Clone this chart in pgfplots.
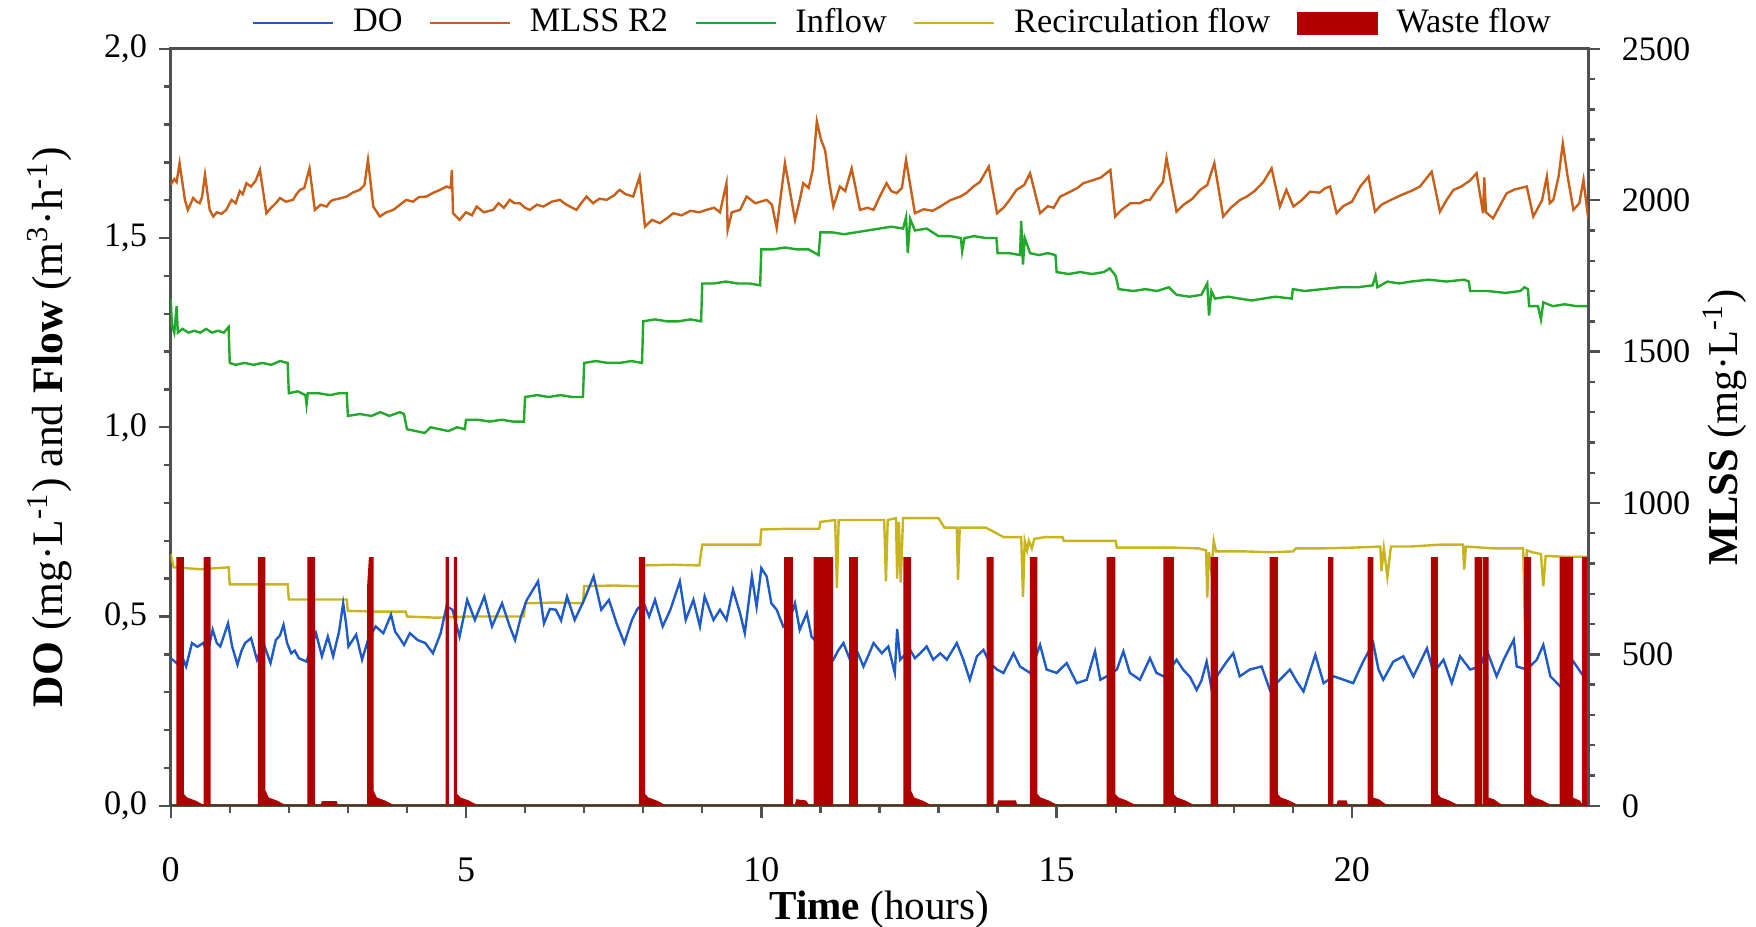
\documentclass[border=0pt]{standalone}
\usepackage{fontspec}
\setmainfont{Liberation Serif}
\usepackage{pgfplots}
\pgfplotsset{compat=1.18}

\definecolor{cDO}{HTML}{1F5BC8}
\definecolor{cMLSS}{HTML}{C8601A}
\definecolor{cIn}{HTML}{22A82A}
\definecolor{cRec}{HTML}{C8B41E}
\definecolor{cWaste}{HTML}{B00000}
\definecolor{cAxis}{HTML}{505050}

\pgfplotsset{
  base/.style={
    scale only axis,
    width=14.53cm, height=7.76cm,
    xmin=0, xmax=24,
    tick align=outside,
    major tick length=0.12cm,
    minor tick length=0.07cm,
    axis line style={cAxis, line width=0.9pt},
    every tick/.style={cAxis, line width=0.7pt},
    tick label style={font=\fontsize{10}{12}\selectfont},
    label style={font=\fontsize{12}{14}\selectfont},
    /pgf/number format/assume math mode=true,
  },
}

\begin{document}
\begin{tikzpicture}
% left axis: DO and flows
\begin{axis}[
  base,
  ymin=0, ymax=2,
  xtick={0,5,10,15,20},
  minor x tick num=4,
  ytick={0,0.5,1,1.5,2},
  minor y tick num=4,
  xtick pos=bottom, ytick pos=left,
  yticklabel style={/pgf/number format/.cd, fixed, fixed zerofill, precision=1, use comma},
  xticklabel style={yshift=-0.29cm, font=\fontsize{10.5}{12}\selectfont},
  xlabel={\textbf{Time} (hours)},
  xlabel style={at={(axis description cs:0.5,-0.137)}, anchor=center},
  ylabel={\textbf{DO} (mg·L\textsuperscript{-1}) and \textbf{Flow} (m\textsuperscript{3}·h\textsuperscript{-1})},
  ylabel style={at={(axis description cs:-0.0855,0.5)}, anchor=center, rotate=0,
    font=\fontsize{12.7}{14}\selectfont},
]
% inflow
\addplot[cIn, line width=0.7pt, sharp plot] coordinates {
(0.00,1.34) (0.02,1.27) (0.06,1.25) (0.10,1.32) (0.12,1.25) (0.20,1.26) (0.30,1.25) (0.40,1.255)
(0.50,1.25) (0.60,1.26) (0.70,1.25) (0.80,1.255) (0.90,1.25) (0.98,1.265) (1.00,1.17) (1.10,1.165)
(1.25,1.17) (1.40,1.165) (1.55,1.17) (1.70,1.165) (1.85,1.175) (1.98,1.17) (2.00,1.09) (2.15,1.095)
(2.28,1.085) (2.30,1.06) (2.32,1.09) (2.50,1.09) (2.70,1.085) (2.85,1.09) (2.98,1.09) (3.00,1.03)
(3.20,1.035) (3.40,1.03) (3.55,1.04) (3.70,1.03) (3.88,1.04) (3.95,1.035) (4.00,0.995) (4.15,0.99)
(4.30,0.985) (4.40,1.00) (4.55,0.995) (4.70,0.99) (4.85,1.00) (4.98,0.995) (5.00,1.02) (5.20,1.02)
(5.40,1.015) (5.60,1.02) (5.80,1.015) (5.98,1.015) (6.00,1.08) (6.20,1.085) (6.40,1.08) (6.60,1.085)
(6.80,1.08) (6.98,1.08) (7.00,1.17) (7.20,1.175) (7.40,1.17) (7.60,1.17) (7.80,1.175) (7.98,1.17)
(8.00,1.28) (8.20,1.285) (8.40,1.28) (8.60,1.28) (8.80,1.285) (8.98,1.28) (9.00,1.38) (9.20,1.38)
(9.40,1.385) (9.60,1.38) (9.80,1.38) (9.98,1.375) (10.00,1.47) (10.20,1.47) (10.40,1.475) (10.60,1.47)
(10.80,1.47) (10.97,1.455) (11.00,1.515) (11.20,1.515) (11.40,1.51) (11.60,1.515) (11.80,1.52) (12.00,1.525)
(12.20,1.53) (12.40,1.525) (12.45,1.555) (12.48,1.46) (12.52,1.55) (12.60,1.52) (12.80,1.525) (13.00,1.505)
(13.20,1.505) (13.38,1.50) (13.40,1.465) (13.44,1.50) (13.60,1.505) (13.80,1.50) (13.98,1.50) (14.00,1.46)
(14.20,1.46) (14.38,1.455) (14.40,1.545) (14.43,1.43) (14.46,1.50) (14.55,1.46) (14.70,1.455) (14.85,1.46)
(14.98,1.455) (15.00,1.41) (15.20,1.405) (15.40,1.41) (15.60,1.405) (15.80,1.41) (15.90,1.42) (16.00,1.40)
(16.05,1.365) (16.30,1.36) (16.50,1.365) (16.70,1.36) (16.90,1.37) (17.03,1.35) (17.25,1.345) (17.45,1.35)
(17.55,1.38) (17.58,1.295) (17.62,1.36) (17.68,1.34) (17.90,1.345) (18.10,1.34) (18.30,1.335) (18.50,1.34)
(18.70,1.345) (18.98,1.34) (19.00,1.365) (19.20,1.36) (19.50,1.365) (19.80,1.37) (20.10,1.37) (20.35,1.375)
(20.40,1.40) (20.43,1.37) (20.60,1.385) (20.80,1.38) (21.00,1.385) (21.30,1.39) (21.60,1.385) (21.90,1.39)
(21.98,1.385) (22.00,1.36) (22.30,1.36) (22.60,1.355) (22.85,1.36) (22.92,1.37) (22.98,1.365) (23.00,1.32)
(23.15,1.32) (23.20,1.285) (23.24,1.33) (23.40,1.32) (23.60,1.325) (23.80,1.32) (24.00,1.32)
};
% recirculation flow
\addplot[cRec, line width=0.7pt, sharp plot] coordinates {
(0.00,0.665) (0.05,0.63) (0.50,0.625) (0.98,0.63) (1.00,0.585) (1.50,0.585) (1.98,0.585) (2.00,0.545)
(2.50,0.545) (2.98,0.545) (3.00,0.515) (3.50,0.513) (3.98,0.513) (4.00,0.50) (4.50,0.497) (5.00,0.50)
(5.50,0.50) (5.98,0.50) (6.00,0.535) (6.50,0.537) (6.98,0.535) (7.00,0.58) (7.50,0.582) (7.95,0.58)
(8.00,0.635) (8.50,0.637) (8.95,0.635) (9.00,0.69) (9.50,0.69) (9.98,0.69) (10.00,0.73) (10.50,0.732)
(10.98,0.732) (11.00,0.75) (11.25,0.755) (11.28,0.576) (11.31,0.755) (11.60,0.755) (12.08,0.755) (12.11,0.593)
(12.14,0.755) (12.28,0.76) (12.30,0.60) (12.33,0.75) (12.36,0.59) (12.40,0.76) (12.70,0.76) (13.00,0.76)
(13.10,0.735) (13.31,0.735) (13.33,0.597) (13.36,0.735) (13.80,0.735) (14.10,0.71) (14.40,0.71) (14.43,0.552)
(14.46,0.70) (14.50,0.675) (14.53,0.70) (14.58,0.68) (14.62,0.705) (14.80,0.71) (15.10,0.71) (15.12,0.70)
(15.60,0.70) (16.00,0.70) (16.02,0.682) (16.50,0.682) (17.00,0.682) (17.40,0.68) (17.53,0.675) (17.55,0.55)
(17.58,0.67) (17.62,0.62) (17.66,0.70) (17.70,0.672) (18.20,0.672) (18.60,0.670) (19.00,0.672) (19.05,0.68)
(19.50,0.68) (20.00,0.682) (20.48,0.685) (20.50,0.62) (20.54,0.68) (20.60,0.605) (20.66,0.685) (21.00,0.685)
(21.50,0.69) (21.88,0.69) (21.90,0.624) (21.93,0.685) (22.40,0.68) (22.90,0.68) (22.93,0.45) (22.96,0.675)
(23.05,0.67) (23.20,0.665) (23.24,0.58) (23.28,0.66) (23.60,0.658) (24.00,0.658)
};
% DO
\addplot[cDO, line width=0.7pt, sharp plot] coordinates {
(0.00,0.39) (0.10,0.377) (0.18,0.40) (0.26,0.368) (0.36,0.430) (0.45,0.42) (0.55,0.430) (0.62,0.403)
(0.71,0.465) (0.78,0.43) (0.84,0.421) (0.97,0.482) (1.04,0.421) (1.13,0.373) (1.20,0.41) (1.26,0.430)
(1.36,0.443) (1.46,0.386) (1.52,0.41) (1.59,0.421) (1.69,0.377) (1.78,0.438) (1.85,0.45) (1.91,0.478)
(1.97,0.43) (2.04,0.403) (2.10,0.41) (2.17,0.390) (2.30,0.381) (2.38,0.42) (2.46,0.456) (2.56,0.395)
(2.66,0.447) (2.75,0.395) (2.85,0.46) (2.92,0.535) (2.97,0.48) (3.01,0.421) (3.14,0.452) (3.24,0.386)
(3.34,0.438) (3.47,0.474) (3.60,0.456) (3.73,0.505) (3.80,0.46) (3.86,0.447) (3.95,0.425) (4.05,0.456)
(4.18,0.438) (4.31,0.430) (4.44,0.403) (4.57,0.456) (4.67,0.527) (4.77,0.518) (4.89,0.447) (5.02,0.544)
(5.15,0.491) (5.31,0.553) (5.44,0.474) (5.61,0.535) (5.74,0.474) (5.83,0.438) (5.93,0.50) (6.03,0.544)
(6.22,0.593) (6.32,0.482) (6.42,0.52) (6.52,0.518) (6.61,0.49) (6.71,0.553) (6.84,0.491) (7.00,0.544)
(7.16,0.606) (7.29,0.518) (7.42,0.544) (7.55,0.482) (7.68,0.430) (7.81,0.491) (7.90,0.52) (8.01,0.535)
(8.10,0.50) (8.20,0.544) (8.33,0.474) (8.46,0.518) (8.62,0.593) (8.72,0.491) (8.85,0.544) (8.96,0.474)
(9.04,0.553) (9.19,0.491) (9.30,0.518) (9.41,0.491) (9.52,0.571) (9.64,0.509) (9.72,0.456) (9.84,0.606)
(9.92,0.526) (10.00,0.628) (10.09,0.606) (10.17,0.535) (10.26,0.518) (10.37,0.474) (10.48,0.491) (10.57,0.535)
(10.65,0.465) (10.77,0.509) (10.85,0.447) (10.95,0.43) (11.15,0.40) (11.22,0.386) (11.30,0.41) (11.39,0.430)
(11.50,0.386) (11.61,0.412) (11.73,0.368) (11.82,0.40) (11.90,0.430) (12.04,0.403) (12.15,0.421) (12.26,0.351)
(12.30,0.467) (12.35,0.386) (12.44,0.40) (12.52,0.412) (12.60,0.39) (12.69,0.403) (12.80,0.421) (12.91,0.386)
(13.03,0.403) (13.14,0.386) (13.31,0.430) (13.42,0.386) (13.53,0.333) (13.65,0.395) (13.76,0.412) (13.87,0.377)
(13.99,0.360) (14.10,0.351) (14.27,0.403) (14.38,0.368) (14.55,0.351) (14.72,0.425) (14.83,0.360) (15.00,0.351)
(15.17,0.377) (15.34,0.324) (15.51,0.333) (15.65,0.408) (15.74,0.333) (15.85,0.342) (16.02,0.360) (16.13,0.408)
(16.24,0.351) (16.41,0.333) (16.58,0.39) (16.69,0.351) (16.81,0.342) (16.92,0.36) (17.03,0.386) (17.14,0.360)
(17.26,0.34) (17.37,0.306) (17.45,0.33) (17.54,0.381) (17.62,0.311) (17.71,0.342) (17.88,0.381) (17.99,0.403)
(18.10,0.342) (18.27,0.360) (18.47,0.368) (18.61,0.306) (18.78,0.333) (18.95,0.360) (19.06,0.33) (19.18,0.302)
(19.38,0.399) (19.52,0.324) (19.69,0.342) (19.86,0.333) (20.02,0.324) (20.19,0.381) (20.36,0.430) (20.45,0.36)
(20.53,0.333) (20.70,0.381) (20.87,0.395) (21.04,0.342) (21.27,0.416) (21.38,0.351) (21.55,0.386) (21.69,0.324)
(21.83,0.395) (22.00,0.360) (22.17,0.368) (22.28,0.412) (22.45,0.342) (22.57,0.386) (22.74,0.439) (22.79,0.368)
(22.96,0.360) (23.13,0.386) (23.24,0.425) (23.36,0.342) (23.53,0.315) (23.64,0.35) (23.75,0.381) (23.92,0.342)
(24.00,0.333)
};
% waste flow
\addplot[fill=cWaste, draw=cWaste, line width=0.5pt, sharp plot] coordinates {
(0,0) (0.11,0) (0.11,0.655) (0.21,0.655) (0.21,0.03) (0.27,0.02) (0.41,0.012) (0.51,0.004) (0.56,0)
(0.57,0) (0.57,0.655) (0.66,0.655) (0.66,0)
(1.49,0) (1.49,0.655) (1.59,0.655) (1.59,0.04) (1.65,0.02) (1.79,0.012) (1.89,0.004) (1.94,0)
(2.33,0) (2.33,0.655) (2.43,0.655) (2.43,0) (2.55,0) (2.57,0.01) (2.80,0.01) (2.82,0)
(3.34,0) (3.34,0.58) (3.37,0.655) (3.42,0.655) (3.42,0.04) (3.48,0.02) (3.62,0.012) (3.72,0.004) (3.77,0)
(4.67,0) (4.67,0.655) (4.695,0.655) (4.695,0) (4.81,0) (4.81,0.655) (4.835,0.655) (4.835,0.03) (4.90,0.02) (5.04,0.012) (5.14,0.004) (5.19,0)
(7.94,0) (7.94,0.655) (8.02,0.655) (8.02,0.03) (8.08,0.02) (8.22,0.012) (8.32,0.004) (8.37,0)
(10.40,0) (10.40,0.655) (10.52,0.655) (10.52,0) (10.58,0) (10.60,0.015) (10.75,0.012) (10.80,0)
(10.90,0) (10.90,0.655) (11.20,0.655) (11.20,0)
(11.50,0) (11.50,0.655) (11.62,0.655) (11.62,0)
(12.42,0) (12.42,0.655) (12.52,0.655) (12.52,0.04) (12.58,0.02) (12.72,0.012) (12.82,0.004) (12.87,0)
(13.83,0) (13.83,0.655) (13.92,0.655) (13.92,0) (14.00,0) (14.02,0.012) (14.30,0.012) (14.32,0)
(14.56,0) (14.56,0.655) (14.66,0.655) (14.66,0.03) (14.72,0.02) (14.86,0.012) (14.96,0.004) (15.01,0)
(15.86,0) (15.86,0.655) (15.98,0.655) (15.98,0.03) (16.04,0.02) (16.18,0.012) (16.28,0.004) (16.33,0)
(16.82,0) (16.82,0.655) (16.97,0.655) (16.97,0.03) (17.03,0.02) (17.17,0.012) (17.27,0.004) (17.32,0)
(17.62,0) (17.62,0.655) (17.72,0.655) (17.72,0)
(18.62,0) (18.62,0.655) (18.73,0.655) (18.73,0.03) (18.79,0.02) (18.93,0.012) (19.03,0.004) (19.08,0)
(19.61,0) (19.61,0.655) (19.67,0.655) (19.67,0) (19.75,0) (19.77,0.012) (19.90,0.012) (19.92,0)
(20.28,0) (20.28,0.655) (20.35,0.655) (20.35,0.02) (20.45,0.015) (20.55,0.004) (20.60,0)
(21.35,0) (21.35,0.655) (21.44,0.655) (21.44,0.03) (21.50,0.02) (21.64,0.012) (21.74,0.004) (21.79,0)
(22.09,0) (22.09,0.655) (22.19,0.655) (22.19,0) (22.23,0) (22.23,0.655) (22.30,0.655) (22.30,0.02) (22.40,0.015) (22.50,0.004) (22.55,0)
(22.93,0) (22.93,0.655) (23.02,0.655) (23.02,0.03) (23.08,0.02) (23.22,0.012) (23.32,0.004) (23.37,0)
(23.53,0) (23.53,0.655) (23.73,0.655) (23.73,0.02) (23.85,0.012) (23.90,0)
(23.91,0) (23.91,0.655) (23.98,0.655) (23.98,0.01) (24,0)
} \closedcycle;
\end{axis}

% right axis: MLSS, and the common legend
\begin{axis}[
  base,
  ymin=0, ymax=2500,
  axis y line*=right,
  axis x line=none,
  ytick={0,500,1000,1500,2000,2500},
  minor y tick num=4,
  yticklabel style={/pgf/number format/1000 sep={}, xshift=0.1cm},
  ylabel={\textbf{MLSS} (mg·L\textsuperscript{-1})},
  ylabel style={at={(axis description cs:1.0964,0.5)}, anchor=center, rotate=0,
    font=\fontsize{12.4}{14}\selectfont},
  legend columns=5,
  legend style={at={(0.518,1.0)}, anchor=south, draw=none, fill=none,
    font=\fontsize{10}{12}\selectfont, inner sep=1pt,
    /tikz/every odd column/.append style={column sep=0.12cm},
    /tikz/every even column/.append style={column sep=0.2cm}},
  legend image code/.code={\draw[#1] (0cm,0cm) -- (0.82cm,0cm);},
]
\addlegendimage{cDO, line width=0.7pt}
\addlegendentry{DO}
\addplot[cMLSS, line width=0.7pt, sharp plot] coordinates {
(0.00,2050) (0.06,2070) (0.10,2060) (0.15,2122) (0.24,2001) (0.29,1968) (0.33,1985) (0.38,2007)
(0.44,1995) (0.49,1990) (0.53,2010) (0.58,2084) (0.66,1968) (0.72,1946) (0.78,1960) (0.86,1955)
(0.94,1968) (1.03,2001) (1.10,1990) (1.17,2030) (1.22,2020) (1.28,2056) (1.36,2045) (1.44,2065)
(1.51,2100) (1.62,1957) (1.70,1975) (1.78,1990) (1.85,2007) (1.95,1995) (2.07,2001) (2.13,2020)
(2.19,2034) (2.26,2040) (2.35,2105) (2.44,1968) (2.54,1985) (2.64,1979) (2.70,1995) (2.75,2001)
(2.85,2005) (2.98,2012) (3.08,2025) (3.20,2034) (3.28,2050) (3.34,2133) (3.43,1979) (3.54,1946)
(3.65,1960) (3.77,1968) (3.88,1985) (3.99,2001) (4.10,1995) (4.20,2010) (4.33,2012) (4.45,2025)
(4.56,2034) (4.67,2045) (4.74,2040) (4.76,2100) (4.78,1957) (4.89,1935) (5.00,1960) (5.10,1950)
(5.18,1979) (5.30,1960) (5.46,1968) (5.55,1990) (5.64,1975) (5.74,2001) (5.82,1990) (5.91,1990)
(6.00,1975) (6.08,1968) (6.20,1985) (6.31,1979) (6.45,1995) (6.59,2001) (6.70,1985) (6.87,1968)
(6.95,1990) (7.04,2012) (7.15,1990) (7.26,2005) (7.38,2001) (7.50,2015) (7.60,2034) (7.70,2020)
(7.83,2012) (7.94,2078) (8.03,1913) (8.15,1935) (8.28,1924) (8.40,1940) (8.51,1957) (8.65,1950)
(8.80,1965) (8.95,1960) (9.07,1968) (9.20,1975) (9.30,1960) (9.41,2056) (9.43,1902) (9.50,1960)
(9.64,1968) (9.75,2012) (9.90,1990) (10.09,2001) (10.18,1985) (10.26,1908) (10.40,2122) (10.57,1935)
(10.65,2000) (10.71,2056) (10.80,2040) (10.87,2100) (10.94,2260) (11.01,2200) (11.08,2165) (11.15,2060)
(11.22,1979) (11.33,2045) (11.42,2030) (11.53,2105) (11.67,1968) (11.80,1975) (11.90,1968) (12.00,2010)
(12.12,2056) (12.20,2030) (12.29,2023) (12.38,2040) (12.45,2133) (12.60,1957) (12.75,1970) (12.90,1965)
(13.03,1979) (13.20,2000) (13.37,2012) (13.48,2025) (13.59,2045) (13.70,2060) (13.85,2111) (13.99,1957)
(14.10,1975) (14.20,2000) (14.32,2034) (14.45,2050) (14.55,2089) (14.72,1957) (14.85,1980) (14.95,1975)
(15.06,2012) (15.20,2025) (15.35,2040) (15.45,2056) (15.60,2065) (15.75,2075) (15.91,2100) (15.99,1946)
(16.10,1968) (16.25,1990) (16.41,1990) (16.50,2000) (16.58,2001) (16.70,2035) (16.80,2060) (16.86,2139)
(17.03,1962) (17.15,1985) (17.30,2005) (17.43,2034) (17.55,2050) (17.67,2122) (17.82,1946) (17.95,1975)
(18.10,2000) (18.22,2012) (18.35,2030) (18.50,2060) (18.64,2105) (18.78,1979) (18.89,2034) (19.01,1979)
(19.15,2000) (19.29,2028) (19.45,2025) (19.55,2040) (19.63,2045) (19.74,1957) (19.85,1980) (20.00,1995)
(20.14,2045) (20.28,2078) (20.39,1962) (20.50,1985) (20.65,2000) (20.87,2020) (21.00,2030) (21.15,2045)
(21.35,2094) (21.49,1962) (21.60,2000) (21.72,2034) (21.85,2045) (22.00,2065) (22.11,2089) (22.22,1957)
(22.24,2075) (22.27,1960) (22.39,1940) (22.50,1980) (22.62,2023) (22.75,2035) (22.85,2040) (22.96,2045)
(23.07,1946) (23.15,1975) (23.22,2000) (23.30,2078) (23.35,1990) (23.41,2001) (23.50,2080) (23.57,2187)
(23.65,2080) (23.75,1968) (23.85,1990) (23.92,2067) (24.00,1940)
};
\addlegendentry{MLSS R2}
\addlegendimage{cIn, line width=0.7pt}
\addlegendentry{Inflow}
\addlegendimage{cRec, line width=0.7pt}
\addlegendentry{Recirculation flow}
\addlegendimage{legend image code/.code={\fill[cWaste] (0cm,-0.11cm) rectangle (0.82cm,0.11cm);}}
\addlegendentry{Waste flow}
\end{axis}

\pgfresetboundingbox
\path (-1.75cm,-1.24cm) rectangle (16.25cm,8.26cm);
\end{tikzpicture}
\end{document}
